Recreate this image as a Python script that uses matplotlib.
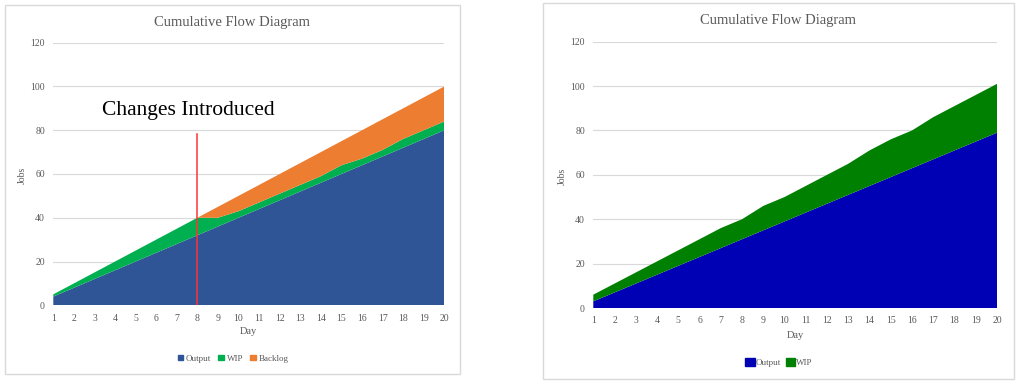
import matplotlib.pyplot as plt
from matplotlib.patches import Patch, Rectangle
import numpy as np

# Data
days = list(range(1, 21))

# left chart (with changes introduced on day 8)
output_a = [4, 8, 12, 16, 20, 24, 28, 32, 36, 40, 44, 48, 52, 56, 60, 64, 68, 72, 76, 80]
wip_top_a = [5, 10, 15, 20, 25, 30, 35, 40, 40, 43, 47, 51, 55, 59, 64, 67, 71, 76, 80, 84]
backlog_top_a = [5, 10, 15, 20, 25, 30, 35, 40, 45, 50, 55, 60, 65, 70, 75, 80, 85, 90, 95, 100]
change_day = 8
change_top = 78.5

# right chart
output_b = [3, 7, 11, 15, 19, 23, 27, 31, 35, 39, 43, 47, 51, 55, 59, 63, 67, 71, 75, 79]
wip_top_b = [6, 11, 16, 21, 26, 31, 36, 40, 46, 50, 55, 60, 65, 71, 76, 80, 86, 91, 96, 101]

y_ticks = [0, 20, 40, 60, 80, 100, 120]

W, H = 1022, 384
plt.rcParams["font.family"] = ["Liberation Serif", "DejaVu Serif"]
fig = plt.figure(figsize=(W / 100, H / 100), dpi=100)

GRAY = "#595959"


def fx(px):
    return px / W


def fy(py):
    return 1 - py / H


def frame(x0, y0, x1, y1):
    fig.patches.append(Rectangle((fx(x0), fy(y1)), fx(x1 - x0), (y1 - y0) / H,
                                 transform=fig.transFigure, fill=False,
                                 edgecolor="#d9d9d9", linewidth=1))


def make_axes(x0, x1, ytop, ybot):
    ax = fig.add_axes([fx(x0), fy(ybot), fx(x1 - x0), (ybot - ytop) / H])
    ax.set_xlim(1, 20)
    ax.set_ylim(0, 120)
    ax.set_xticks(days)
    ax.set_yticks(y_ticks)
    ax.grid(axis="y", color="#d9d9d9", linewidth=0.8)
    ax.set_axisbelow(True)
    for s in ax.spines.values():
        s.set_visible(False)
    ax.tick_params(length=0, labelsize=7, labelcolor=GRAY, pad=6)
    return ax


# ---- left chart
frame(5, 5, 460, 374)
ax1 = make_axes(53.3, 444.3, 42.7, 305.3)
wip_a = np.array(wip_top_a) - np.array(output_a)
backlog_a = np.array(backlog_top_a) - np.array(wip_top_a)
ax1.stackplot(days, output_a, wip_a, backlog_a,
              colors=["#2f5597", "#00b050", "#ed7d31"], linewidth=0)
ax1.plot([change_day, change_day], [0, change_top], color="#ff3333", linewidth=1.1)
fig.text(fx(232), fy(22.7), "Cumulative Flow Diagram", ha="center", va="center",
         fontsize=10.5, color=GRAY)
fig.text(fx(188), fy(111), "Changes Introduced", ha="center", va="center",
         fontsize=15.5, color="black")
fig.text(fx(22.7), fy(175), "Jobs", rotation=90, ha="center", va="center",
         fontsize=7, color=GRAY)
fig.text(fx(248), fy(331.7), "Day", ha="center", va="center", fontsize=7.5, color=GRAY)
fig.legend(handles=[Patch(color="#2f5597", label="Output"),
                    Patch(color="#00b050", label="WIP"),
                    Patch(color="#ed7d31", label="Backlog")],
           loc="center", bbox_to_anchor=(fx(233), fy(358.7)), ncol=3, frameon=False,
           fontsize=6.5, handlelength=0.6, handleheight=0.6, handletextpad=0.3,
           columnspacing=0.8, labelcolor=GRAY)

# ---- right chart
frame(543.3, 3.3, 1014, 378.7)
ax2 = make_axes(593.3, 997, 41.7, 308)
wip_b = np.array(wip_top_b) - np.array(output_b)
ax2.stackplot(days, output_b, wip_b, colors=["#0000b4", "#008000"], linewidth=0)
fig.text(fx(778), fy(20.7), "Cumulative Flow Diagram", ha="center", va="center",
         fontsize=10.5, color=GRAY)
fig.text(fx(562.7), fy(176.7), "Jobs", rotation=90, ha="center", va="center",
         fontsize=7, color=GRAY)
fig.text(fx(795), fy(335), "Day", ha="center", va="center", fontsize=7.5, color=GRAY)
fig.legend(handles=[Patch(color="#0000b4", label="Output"),
                    Patch(color="#008000", label="WIP")],
           loc="center", bbox_to_anchor=(fx(779), fy(362.3)), ncol=2, frameon=False,
           fontsize=6.5, handlelength=1.0, handleheight=1.0, handletextpad=0.1,
           columnspacing=0.6, labelcolor=GRAY)

fig.savefig("out.png", dpi=100)
